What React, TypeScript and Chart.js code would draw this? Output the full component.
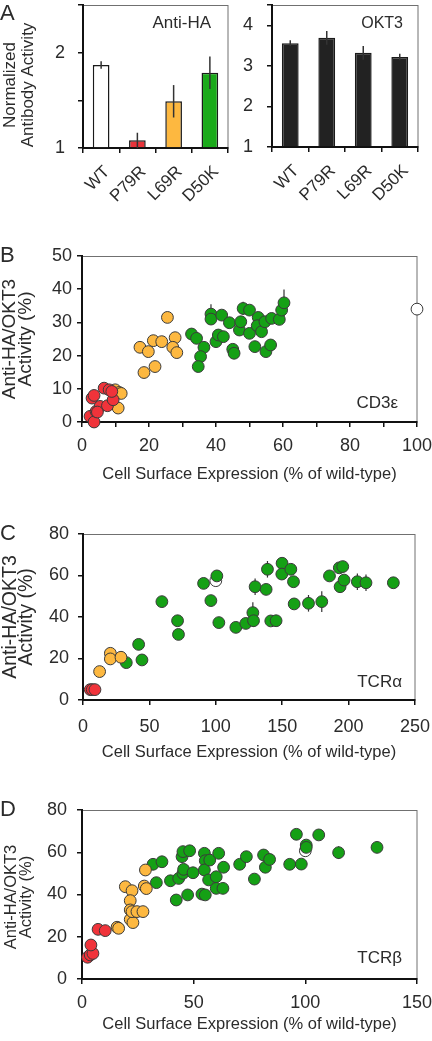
import React, { useEffect, useRef } from 'react';
import { Chart, registerables } from 'chart.js';

Chart.register(...registerables);

const FONT = "'Liberation Sans', Arial, Helvetica, sans-serif";
const INK = '#2b2b2b';
const AXIS = '#111111';
const FRAME = '#707070';
const EDGE = '#3a3a3a';
const RED = '#f0333a';
const ORANGE = '#fdb840';
const GREEN = '#15a015';
const WHITE = '#ffffff';

Chart.defaults.font.family = FONT;

// ---------- Panel A ----------
const mutants = ['WT', 'P79R', 'L69R', 'D50K'];
const antiHA = [1.87, 1.08, 1.49, 1.79];
const antiHAErr = [0.04, 0.08, 0.17, 0.17];
const okt3 = [3.56, 3.69, 3.32, 3.22];
const okt3Err = [0.07, 0.17, 0.17, 0.08];
const antiHAColors = [WHITE, '#e8343b', ORANGE, '#1aaa1a'];

// ---------- Panel B : CD3ε ----------
const cd3eRedX = [3.0, 3.6, 2.4, 3.6, 4.2, 5.4, 6.6, 8.1, 7.6, 9.3, 8.9, 4.6];
const cd3eRedY = [7.2, 8.0, 1.7, 0.0, 3.2, 4.7, 10.2, 9.7, 4.9, 6.7, 9.2, 3.0];
const cd3eOrangeX = [9.9, 11.1, 11.7, 10.8, 17.3, 19.8, 18.5, 21.8, 21.3, 23.8, 25.5, 27.8, 27.1, 28.3];
const cd3eOrangeY = [9.7, 8.9, 8.6, 4.2, 22.5, 21.2, 14.9, 16.7, 24.5, 24.2, 31.5, 25.4, 22.5, 20.9];
const cd3eGreenX = [32.7, 34.2, 36.4, 35.4, 34.7, 38.5, 38.5, 41.7, 44.0, 40.0, 40.7, 42.2, 45.0, 45.4, 47.0, 47.4, 48.1, 50.0, 50.0, 52.6, 52.3, 51.6, 54.9, 56.3, 53.6, 54.6, 56.6, 58.9, 59.6, 60.3];
const cd3eGreenY = [26.5, 25.2, 22.5, 19.7, 16.7, 32.5, 31.0, 32.2, 29.9, 24.2, 26.2, 25.7, 21.9, 20.7, 27.7, 30.2, 34.2, 33.7, 26.7, 31.5, 29.0, 22.7, 21.2, 23.2, 27.2, 30.2, 31.2, 30.9, 33.7, 35.9];
const cd3eGreenErr = [0, 0, 0, 0, 0, 3, 0, 0, 0, 0, 0, 0, 0, 0, 0, 0, 2, 0, 0, 0, 0, 0, 0, 0, 0, 0, 0, 0, 0, 4];
const cd3eWtX = [100];
const cd3eWtY = [34];

// ---------- Panel C : TCRα ----------
const tcraRedX = [5.5, 7.0, 9.0];
const tcraRedY = [5, 5, 5];
const tcraOrangeX = [12.5, 20.6, 20.6, 28.6];
const tcraOrangeY = [13.7, 22.5, 19.8, 20.6];
const tcraGreenX = [32.6, 41.9, 44.4, 59.4, 71.2, 71.9, 90.8, 96.3, 100.8, 102.3, 115.1, 122.6, 127.9, 128.4, 129.6, 137.9, 138.9, 141.4, 145.4, 149.9, 149.7, 156.5, 158.5, 159.0, 169.8, 179.8, 185.6, 193.6, 193.0, 195.6, 196.6, 206.6, 213.1, 233.7];
const tcraGreenY = [18.0, 26.8, 19.3, 47.4, 38.2, 31.6, 56.2, 47.9, 59.8, 37.3, 35.0, 36.9, 42.1, 38.2, 54.6, 53.3, 63.0, 38.1, 38.2, 65.9, 60.7, 63.0, 57.0, 46.3, 46.6, 47.4, 59.8, 54.6, 63.7, 64.3, 57.8, 57.0, 56.5, 56.5];
const tcraGreenErr = [0, 0, 0, 0, 0, 0, 0, 0, 0, 0, 0, 0, 5, 3, 4, 0, 4, 0, 0, 0, 0, 0, 0, 0, 4, 5, 0, 3, 0, 0, 0, 4, 4, 0];
const tcraWtX = [100];
const tcraWtY = [57.5];

// ---------- Panel D : TCRβ ----------
const tcrbRedX = [2.5, 3.7, 4.9, 4.0, 7.2, 10.4];
const tcrbRedY = [10.3, 11.4, 12.1, 16.1, 23.5, 22.9];
const tcrbOrangeX = [15.7, 16.4, 19.4, 22.4, 21.6, 21.6, 21.6, 22.8, 22.4, 24.6, 27.3, 27.9, 28.8, 28.4];
const tcrbOrangeY = [24.5, 24.0, 43.7, 41.8, 37.1, 32.7, 28.2, 26.7, 31.9, 31.9, 31.9, 44.0, 42.8, 51.6];
const tcrbGreenX = [31.8, 35.8, 33.3, 39.6, 42.2, 43.3, 44.8, 45.2, 48.2, 45.2, 45.5, 47.3, 49.7, 53.7, 55.2, 54.8, 55.2, 54.8, 57.2, 56.7, 60.1, 61.2, 60.1, 63.1, 63.4, 70.6, 73.6, 77.2, 81.3, 82.1, 84.0, 93.0, 96.0, 98.2, 100.4, 100.4, 106.0, 114.9, 132.1];
const tcrbGreenY = [54.3, 55.5, 45.6, 46.5, 37.4, 47.6, 57.9, 60.3, 60.7, 50.0, 51.9, 39.8, 50.3, 40.2, 39.8, 59.5, 56.0, 51.6, 56.3, 46.9, 48.4, 59.5, 42.9, 42.9, 52.9, 54.3, 57.9, 47.3, 58.7, 52.9, 56.6, 54.3, 68.5, 54.4, 63.4, 62.3, 68.2, 59.8, 62.3];
const tcrbGreenErr = [0, 0, 0, 0, 0, 0, 0, 0, 0, 0, 0, 0, 0, 0, 0, 0, 0, 0, 0, 0, 0, 0, 0, 0, 0, 0, 0, 0, 0, 0, 0, 0, 0, 0, 0, 0, 0, 3, 0];
const tcrbWtX = [100];
const tcrbWtY = [60.7];

const X_TITLE = 'Cell Surface Expression (% of wild-type)';
const Y_TITLE = ['Anti-HA/OKT3', 'Activity (%)'];
const A_TITLE = ['Normalized', 'Antibody Activity'];

type TextItem = { text: string; x: number; y: number; size: number; align?: CanvasTextAlign; rotate?: boolean; baseline?: CanvasTextBaseline };

const zip = (xs: number[], ys: number[]) => xs.map((x, i) => ({ x, y: ys[i] }));

const framePlugin = {
  id: 'frame',
  beforeDraw(chart: any) {
    const { ctx, chartArea: a } = chart;
    ctx.save();
    ctx.strokeStyle = FRAME;
    ctx.lineWidth = 1;
    ctx.strokeRect(Math.round(a.left) + 0.5, Math.round(a.top) + 0.5, Math.round(a.right - a.left) - 0.5, Math.round(a.bottom - a.top));
    ctx.restore();
  },
};

function textPlugin(items: TextItem[]) {
  return {
    id: 'texts',
    afterDraw(chart: any) {
      const ctx = chart.ctx;
      ctx.save();
      ctx.fillStyle = INK;
      for (const t of items) {
        ctx.font = `${t.size}px ${FONT}`;
        ctx.textAlign = t.align || 'left';
        ctx.textBaseline = t.baseline || 'alphabetic';
        if (t.rotate) {
          ctx.save();
          ctx.translate(t.x, t.y);
          ctx.rotate(-Math.PI / 2);
          ctx.fillText(t.text, 0, 0);
          ctx.restore();
        } else {
          ctx.fillText(t.text, t.x, t.y);
        }
      }
      ctx.restore();
    },
  };
}

function yTitleItems(lines: string[], xs: number[], y: number, size: number): TextItem[] {
  return lines.map((text, i) => ({ text, x: xs[i], y, size, align: 'center', rotate: true, baseline: 'middle' }));
}

function barErrPlugin(errs: number[]) {
  return {
    id: 'barErr',
    afterDatasetsDraw(chart: any) {
      const meta = chart.getDatasetMeta(0);
      const ys = chart.scales.y;
      const vals = chart.data.datasets[0].data as number[];
      const ctx = chart.ctx;
      ctx.save();
      ctx.strokeStyle = '#333333';
      ctx.lineWidth = 1.5;
      meta.data.forEach((el: any, i: number) => {
        const v = vals[i];
        ctx.beginPath();
        ctx.moveTo(el.x, ys.getPixelForValue(v + errs[i]));
        ctx.lineTo(el.x, ys.getPixelForValue(v - errs[i]));
        ctx.stroke();
      });
      ctx.restore();
    },
  };
}

function pointErrPlugin(errByDataset: (number[] | null)[]) {
  return {
    id: 'pointErr',
    beforeDatasetsDraw(chart: any) {
      const ys = chart.scales.y;
      const ctx = chart.ctx;
      ctx.save();
      ctx.strokeStyle = '#333333';
      ctx.lineWidth = 1.2;
      errByDataset.forEach((errs, di) => {
        if (!errs) return;
        const meta = chart.getDatasetMeta(di);
        const data = chart.data.datasets[di].data as { x: number; y: number }[];
        meta.data.forEach((el: any, i: number) => {
          const e = errs[i];
          if (!e) return;
          ctx.beginPath();
          ctx.moveTo(el.x, ys.getPixelForValue(data[i].y + e));
          ctx.lineTo(el.x, ys.getPixelForValue(data[i].y - e));
          ctx.stroke();
        });
      });
      ctx.restore();
    },
  };
}

const gridOpts = (offset = false) => ({
  drawOnChartArea: false,
  drawTicks: true,
  tickLength: 5,
  color: AXIS,
  lineWidth: 1.5,
  offset,
});
const borderOpts = { color: AXIS, width: 2 };

function barConfig(opts: {
  values: number[];
  errs: number[];
  colors: string[] | string;
  yMin: number;
  yMax: number;
  yStep: number;
  yWidth: number;
  yPad: number;
  xHeight: number;
  padTop: number;
  padRight: number;
  texts: TextItem[];
}): any {
  return {
    type: 'bar',
    data: {
      labels: mutants,
      datasets: [
        {
          data: opts.values,
          backgroundColor: opts.colors,
          borderColor: '#1a1a1a',
          borderWidth: 1.5,
          base: opts.yMin,
          barPercentage: 0.46,
          categoryPercentage: 1,
        },
      ],
    },
    options: {
      responsive: false,
      animation: false,
      events: [],
      layout: { padding: { top: opts.padTop, right: opts.padRight, left: 0, bottom: 0 } },
      plugins: { legend: { display: false }, tooltip: { enabled: false } },
      scales: {
        x: {
          ticks: { minRotation: 45, maxRotation: 45, color: INK, font: { size: 17 }, padding: 9, labelOffset: 6 },
          grid: gridOpts(true),
          border: borderOpts,
          afterFit(s: any) {
            s.height = opts.xHeight;
            s.paddingLeft = 0;
            s.paddingRight = 0;
          },
        },
        y: {
          min: opts.yMin,
          max: opts.yMax,
          ticks: {
            stepSize: opts.yStep,
            color: INK,
            font: { size: 18 },
            padding: opts.yPad,
            callback: (v: number) => (Number.isInteger(v) ? String(v) : ''),
          },
          grid: gridOpts(),
          border: borderOpts,
          afterFit(s: any) {
            s.width = opts.yWidth;
            s.paddingTop = 0;
            s.paddingBottom = 0;
          },
        },
      },
    },
    plugins: [framePlugin, barErrPlugin(opts.errs), textPlugin(opts.texts)],
  };
}

function scatterConfig(opts: {
  red: [number[], number[]];
  orange: [number[], number[]];
  green: [number[], number[]];
  greenErr: number[];
  wt: [number[], number[]];
  xMax: number;
  xStep: number;
  xLabelEvery: number;
  yMax: number;
  yStep: number;
  yWidth: number;
  yPad: number;
  xHeight: number;
  xPad: number;
  xTitlePad: number;
  padTop: number;
  padRight: number;
  texts: TextItem[];
}): any {
  const ds = (pts: { x: number; y: number }[], color: string) => ({
    data: pts,
    backgroundColor: color,
    borderColor: EDGE,
    borderWidth: 1,
    pointRadius: 5.9,
    clip: false,
  });
  return {
    type: 'scatter',
    data: {
      datasets: [
        ds(zip(opts.red[0], opts.red[1]), RED),
        ds(zip(opts.orange[0], opts.orange[1]), ORANGE),
        ds(zip(opts.green[0], opts.green[1]), GREEN),
        ds(zip(opts.wt[0], opts.wt[1]), WHITE),
      ],
    },
    options: {
      responsive: false,
      animation: false,
      events: [],
      layout: { padding: { top: opts.padTop, right: opts.padRight, left: 0, bottom: 0 } },
      plugins: { legend: { display: false }, tooltip: { enabled: false } },
      scales: {
        x: {
          type: 'linear',
          min: 0,
          max: opts.xMax,
          ticks: {
            stepSize: opts.xStep,
            autoSkip: false,
            maxRotation: 0,
            color: INK,
            font: { size: 18 },
            padding: opts.xPad,
            callback: (v: number) => (v % opts.xLabelEvery === 0 ? String(v) : ''),
          },
          grid: gridOpts(),
          border: borderOpts,
          title: {
            display: true,
            text: X_TITLE,
            color: INK,
            font: { size: 16.5 },
            padding: { top: 0, bottom: opts.xTitlePad },
          },
          afterFit(s: any) {
            s.height = opts.xHeight;
            s.paddingLeft = 0;
            s.paddingRight = 0;
          },
        },
        y: {
          type: 'linear',
          min: 0,
          max: opts.yMax,
          ticks: { stepSize: opts.yStep, color: INK, font: { size: 18 }, padding: opts.yPad },
          grid: gridOpts(),
          border: borderOpts,
          afterFit(s: any) {
            s.width = opts.yWidth;
            s.paddingTop = 0;
            s.paddingBottom = 0;
          },
        },
      },
    },
    plugins: [framePlugin, pointErrPlugin([null, null, opts.greenErr, null]), textPlugin(opts.texts)],
  };
}

function ChartBox(props: { left: number; top: number; width: number; height: number; make: () => any }) {
  const ref = useRef<HTMLCanvasElement>(null);
  useEffect(() => {
    const chart = new Chart(ref.current as HTMLCanvasElement, props.make());
    return () => chart.destroy();
  }, []);
  return (
    <div style={{ position: 'absolute', left: props.left, top: props.top, width: props.width, height: props.height }}>
      <canvas ref={ref} width={props.width} height={props.height} style={{ width: props.width, height: props.height, display: 'block' }} />
    </div>
  );
}

export default function App() {
  return (
    <div style={{ position: 'absolute', left: 0, top: 0, width: 432, height: 1041, background: '#fff', overflow: 'hidden' }}>
      <ChartBox
        left={0}
        top={0}
        width={232}
        height={215}
        make={() =>
          barConfig({
            values: antiHA,
            errs: antiHAErr,
            colors: antiHAColors,
            yMin: 1,
            yMax: 2.5,
            yStep: 0.5,
            yWidth: 83,
            yPad: 13,
            xHeight: 67,
            padTop: 5,
            padRight: 4,
            texts: [
              { text: 'A', x: 0, y: 20, size: 22 },
              { text: 'Anti-HA', x: 211, y: 28, size: 17, align: 'right' },
              ...yTitleItems(A_TITLE, [10, 28], 85, 17),
            ],
          })
        }
      />
      <ChartBox
        left={232}
        top={0}
        width={200}
        height={215}
        make={() =>
          barConfig({
            values: okt3,
            errs: okt3Err,
            colors: '#222222',
            yMin: 1,
            yMax: 4.5,
            yStep: 1,
            yWidth: 40,
            yPad: 14,
            xHeight: 68,
            padTop: 5,
            padRight: 14,
            texts: [{ text: 'OKT3', x: 171, y: 28, size: 16, align: 'right' }],
          })
        }
      />
      <ChartBox
        left={0}
        top={215}
        width={432}
        height={275}
        make={() =>
          scatterConfig({
            red: [cd3eRedX, cd3eRedY],
            orange: [cd3eOrangeX, cd3eOrangeY],
            green: [cd3eGreenX, cd3eGreenY],
            greenErr: cd3eGreenErr,
            wt: [cd3eWtX, cd3eWtY],
            xMax: 100,
            xStep: 10,
            xLabelEvery: 20,
            yMax: 50,
            yStep: 10,
            yWidth: 82,
            yPad: 5,
            xHeight: 68,
            xPad: 8,
            xTitlePad: 6,
            padTop: 41,
            padRight: 15,
            texts: [
              { text: 'B', x: 0, y: 47, size: 22 },
              { text: 'CD3ε', x: 398, y: 193, size: 17, align: 'right' },
              ...yTitleItems(Y_TITLE, [10, 26], 124, 19),
            ],
          })
        }
      />
      <ChartBox
        left={0}
        top={490}
        width={432}
        height={275}
        make={() =>
          scatterConfig({
            red: [tcraRedX, tcraRedY],
            orange: [tcraOrangeX, tcraOrangeY],
            green: [tcraGreenX, tcraGreenY],
            greenErr: tcraGreenErr,
            wt: [tcraWtX, tcraWtY],
            xMax: 250,
            xStep: 50,
            xLabelEvery: 50,
            yMax: 80,
            yStep: 20,
            yWidth: 83,
            yPad: 9,
            xHeight: 65,
            xPad: 11,
            xTitlePad: 3,
            padTop: 44,
            padRight: 17,
            texts: [
              { text: 'C', x: 0, y: 50, size: 22 },
              { text: 'TCRα', x: 402, y: 197, size: 17, align: 'right' },
              ...yTitleItems(Y_TITLE, [11, 27], 127, 19.5),
            ],
          })
        }
      />
      <ChartBox
        left={0}
        top={765}
        width={432}
        height={276}
        make={() =>
          scatterConfig({
            red: [tcrbRedX, tcrbRedY],
            orange: [tcrbOrangeX, tcrbOrangeY],
            green: [tcrbGreenX, tcrbGreenY],
            greenErr: tcrbGreenErr,
            wt: [tcrbWtX, tcrbWtY],
            xMax: 150,
            xStep: 50,
            xLabelEvery: 50,
            yMax: 80,
            yStep: 20,
            yWidth: 82,
            yPad: 10,
            xHeight: 62,
            xPad: 8,
            xTitlePad: 7,
            padTop: 45,
            padRight: 15,
            texts: [
              { text: 'D', x: 0, y: 51, size: 22 },
              { text: 'TCRβ', x: 402, y: 198, size: 17, align: 'right' },
              ...yTitleItems(Y_TITLE, [11, 26], 132, 16.5),
            ],
          })
        }
      />
    </div>
  );
}
